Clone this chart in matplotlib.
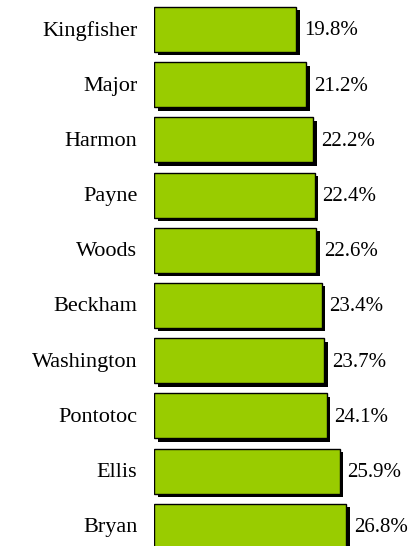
import matplotlib
matplotlib.use("Agg")
import matplotlib.pyplot as plt
import matplotlib.transforms as mtransforms

counties = ["Kingfisher", "Major", "Harmon", "Payne", "Woods",
            "Beckham", "Washington", "Pontotoc", "Ellis", "Bryan"]
pcts = [19.8, 21.2, 22.2, 22.4, 22.6, 23.4, 23.7, 24.1, 25.9, 26.8]
pct_labels = ["19.8%", "21.2%", "22.2%", "22.4%", "22.6%",
              "23.4%", "23.7%", "24.1%", "25.9%", "26.8%"]

plt.rcParams['font.family'] = ['Liberation Serif', 'DejaVu Serif']

fig = plt.figure(figsize=(4.13, 5.46), dpi=100)
ax = fig.add_axes([154/413, 0, 259/413, 1])

ypos = list(range(len(counties)))
# drop shadow, shifted right and down by 3.5 px
shadow = ax.transData + mtransforms.ScaledTranslation(3.5/100, -3.5/100, fig.dpi_scale_trans)
ax.barh(ypos, pcts, height=0.815, color="black", transform=shadow, zorder=1)
ax.barh(ypos, pcts, height=0.815, color="#99CC00", edgecolor="black",
        linewidth=1, zorder=2)

for y, v, lab in zip(ypos, pcts, pct_labels):
    ax.annotate(lab, (v, y), xytext=(5.5, -1), textcoords="offset points",
                va="center", ha="left", fontsize=15, zorder=3)
    ax.annotate(counties[y], (0, y), xytext=(-12, -1), textcoords="offset points",
                va="center", ha="right", fontsize=16, zorder=3,
                annotation_clip=False)

ax.set_xlim(0, 36.1)
ax.set_ylim(9.357, -0.534)
ax.axis("off")

fig.savefig("out.png", dpi=100)
